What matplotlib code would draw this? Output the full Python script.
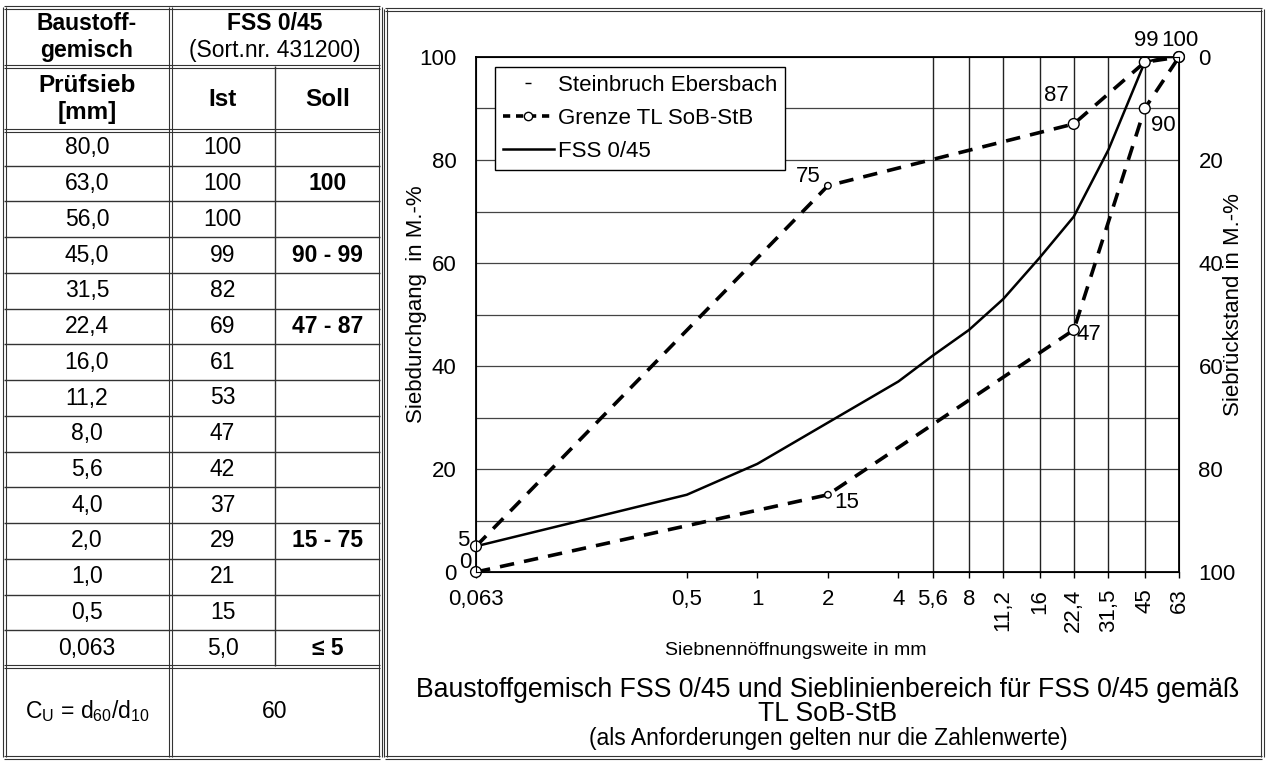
import matplotlib
matplotlib.use('Agg')
import matplotlib.pyplot as plt
from matplotlib import font_manager
from matplotlib.lines import Line2D
from matplotlib.ticker import NullLocator

plt.rcParams['font.family'] = ['Liberation Sans', 'DejaVu Sans']
plt.rcParams['font.size'] = 16

# schmale Schrift fuer die Achsenbeschriftung, falls vorhanden
_namen = {f.name for f in font_manager.fontManager.ttflist}
if 'Liberation Sans Narrow' in _namen:
    schmal = dict(family=['Liberation Sans Narrow', 'DejaVu Sans'], fontsize=16)
else:
    schmal = dict(fontsize=14)

# Siebanalyse FSS 0/45 (Tabelle links, Kurve rechts)
sieb_mm = [80.0, 63.0, 56.0, 45.0, 31.5, 22.4, 16.0, 11.2, 8.0, 5.6, 4.0, 2.0, 1.0, 0.5, 0.063]
ist = [100, 100, 100, 99, 82, 69, 61, 53, 47, 42, 37, 29, 21, 15, 5.0]
soll = ['', '100', '', '90 - 99', '', '47 - 87', '', '', '', '', '', '15 - 75', '', '', '≤ 5']
cu_wert = '60'

# Grenzsieblinien TL SoB-StB
grenze_mm = [0.063, 2.0, 22.4, 45.0, 63.0]
grenze_oben = [5, 75, 87, 99, 100]
grenze_unten = [0, 15, 47, 90, 100]

xticks = [0.063, 0.5, 1, 2, 4, 5.6, 8, 11.2, 16, 22.4, 31.5, 45, 63]
xgrid = [5.6, 8, 11.2, 16, 22.4, 31.5, 45]


def de(v):
    return f'{v:g}'.replace('.', ',')


W, H = 1267, 761
fig = plt.figure(figsize=(W / 100, H / 100), dpi=100)

# Hintergrund-Achse in Pixeln fuer Tabelle und Rahmen
bg = fig.add_axes([0, 0, 1, 1])
bg.set_xlim(0, W)
bg.set_ylim(H, 0)
bg.axis('off')


def hline(y, x0, x1, double=False):
    for d in ([-1.5, 1.5] if double else [0]):
        bg.plot([x0, x1], [y + d, y + d], color='#333333', lw=0.8 if double else 1.0,
                solid_capstyle='butt')


def vline(x, y0, y1, double=False):
    for d in ([-1.5, 1.5] if double else [0]):
        bg.plot([x + d, x + d], [y0, y1], color='#333333', lw=0.8 if double else 1.0,
                solid_capstyle='butt')


def box(x0, y0, x1, y1):
    hline(y0, x0, x1, True)
    hline(y1, x0, x1, True)
    vline(x0, y0, y1, True)
    vline(x1, y0, y1, True)


# Tabelle
x_l, x_c1, x_c2, x_r = 4, 170, 275, 380
y_t, y_h1, y_h2, y_cu, y_b = 7, 66, 130, 666, 757
row_h = (y_cu - y_h2) / len(sieb_mm)

box(x_l, y_t, x_r, y_b)
vline(x_c1, y_t, y_b, True)
vline(x_c2, y_h1, y_cu)
hline(y_h1, x_l, x_r, True)
hline(y_h2, x_l, x_r, True)
hline(y_cu, x_l, x_r, True)
for i in range(1, len(sieb_mm)):
    hline(y_h2 + i * row_h, x_l, x_r)

cx1 = (x_l + x_c1) / 2
cx2 = (x_c1 + x_c2) / 2
cx3 = (x_c2 + x_r) / 2
cx23 = (x_c1 + x_r) / 2
fs_tab = 16.5

bg.text(cx1, 24, 'Baustoff-', ha='center', va='center', fontweight='bold', fontsize=fs_tab)
bg.text(cx1, 50, 'gemisch', ha='center', va='center', fontweight='bold', fontsize=fs_tab)
bg.text(cx23, 24, 'FSS 0/45', ha='center', va='center', fontweight='bold', fontsize=fs_tab)
bg.text(cx23, 50, '(Sort.nr. 431200)', ha='center', va='center', fontsize=fs_tab)
bg.text(cx1, 85, 'Prüfsieb', ha='center', va='center', fontweight='bold', fontsize=17.5)
bg.text(cx1, 112, '[mm]', ha='center', va='center', fontweight='bold', fontsize=17.5)
bg.text(cx2, 99, 'Ist', ha='center', va='center', fontweight='bold', fontsize=17.5)
bg.text(cx3, 99, 'Soll', ha='center', va='center', fontweight='bold', fontsize=17.5)

for i, (s, v, z) in enumerate(zip(sieb_mm, ist, soll)):
    yc = y_h2 + (i + 0.5) * row_h
    s_txt = f'{s:.1f}'.replace('.', ',') if s >= 0.5 else de(s)
    v_txt = f'{v:.1f}'.replace('.', ',') if isinstance(v, float) else str(v)
    bg.text(cx1, yc, s_txt, ha='center', va='center', fontsize=fs_tab)
    bg.text(cx2, yc, v_txt, ha='center', va='center', fontsize=fs_tab)
    bg.text(cx3, yc, z, ha='center', va='center', fontweight='bold', fontsize=fs_tab)

y_cuc = (y_cu + y_b) / 2
bg.text(cx1, y_cuc, r'C$_\mathregular{U}$ = d$_\mathregular{60}$/d$_\mathregular{10}$',
        ha='center', va='center', fontsize=fs_tab)
bg.text(cx23, y_cuc, cu_wert, ha='center', va='center', fontsize=fs_tab)

# Rahmen Diagramm
box(385, 9, 1262, y_b)

bg.text(828, 690, 'Baustoffgemisch FSS 0/45 und Sieblinienbereich für FSS 0/45 gemäß',
        ha='center', va='center', fontsize=19.2)
bg.text(828, 714, 'TL SoB-StB', ha='center', va='center', fontsize=19.2)
bg.text(828, 738, '(als Anforderungen gelten nur die Zahlenwerte)', ha='center', va='center',
        fontsize=16.5)

# Diagramm
ax = fig.add_axes([476 / W, 1 - 572 / H, 703 / W, 515 / H])
ax.set_xscale('log')
ax.set_xlim(0.063, 63)
ax.set_ylim(0, 100)
for g in range(10, 100, 10):
    ax.axhline(g, color='#444444', lw=0.9, zorder=1)
for g in xgrid:
    ax.axvline(g, color='#222222', lw=1.0, zorder=1)

ax.plot(sieb_mm, ist, color='black', lw=1.8, zorder=3)
for grenze in (grenze_oben, grenze_unten):
    ax.plot(grenze_mm, grenze, color='black', lw=2.6, dashes=(4, 2.8), zorder=3)
    ax.scatter(grenze_mm, grenze, s=[60, 22, 60, 60, 60], facecolor='white',
               edgecolor='black', lw=1, zorder=4, clip_on=False)

oben_off = [(-9.4, 4.3), (-14.4, 6.5), (-12.2, 20.2), (1.4, 15.8), (0.7, 12.2)]
unten_off = [(-7.9, 6.5), (13.7, -5.8), (10.8, -3.6), (13, -12.2), None]
for grenze, offs in ((grenze_oben, oben_off), (grenze_unten, unten_off)):
    for x, y, off in zip(grenze_mm, grenze, offs):
        if off is None:
            continue
        ax.annotate(f'{y:g}', (x, y), xytext=off, textcoords='offset points',
                    ha='center', va='center', fontsize=16, annotation_clip=False)

ax.set_xticks(xticks)
ax.set_xticklabels([de(v) for v in xticks])
ax.xaxis.set_minor_locator(NullLocator())
for lab in ax.get_xticklabels()[7:]:
    lab.set_rotation(90)
    lab.set_va('top')
ax.tick_params(axis='x', direction='out', length=4, width=1, pad=8, labelsize=16)
ax.set_yticks(range(0, 101, 20))
ax.tick_params(axis='y', length=0, pad=14, labelsize=16)
for sp in ax.spines.values():
    sp.set_linewidth(1.3)

ax2 = ax.twinx()
ax2.set_ylim(100, 0)
ax2.set_yticks(range(0, 101, 20))
ax2.tick_params(axis='y', length=0, pad=14, labelsize=16)

ax.text(0.455, -0.152, 'Siebnennöffnungsweite in mm', transform=ax.transAxes,
        ha='center', va='center', **schmal)
ax.text(-0.084, 0.52, 'Siebdurchgang  in M.-%', transform=ax.transAxes, rotation=90,
        ha='center', va='center', fontsize=16)
ax.text(1.077, 0.52, 'Siebrückstand in M.-%', transform=ax.transAxes, rotation=90,
        ha='center', va='center', fontsize=16)

h1 = Line2D([], [], color='black', marker='_', ms=5, mew=1, linestyle='none')
h2 = Line2D([], [], color='black', lw=2.6, dashes=(2, 1.6), marker='o', ms=6,
            mfc='white', mec='black')
h3 = Line2D([], [], color='black', lw=1.8)
leg = ax.legend([h1, h2, h3], ['Steinbruch Ebersbach', 'Grenze TL SoB-StB', 'FSS 0/45'],
                loc='upper left', bbox_to_anchor=(0.027, 0.981), borderaxespad=0,
                fancybox=False, framealpha=1, edgecolor='black', handlelength=2.3,
                handletextpad=0.2, labelspacing=0.55, borderpad=0.35, fontsize=16)
leg.get_frame().set_linewidth(1.0)

fig.savefig('out.png', dpi=100)
